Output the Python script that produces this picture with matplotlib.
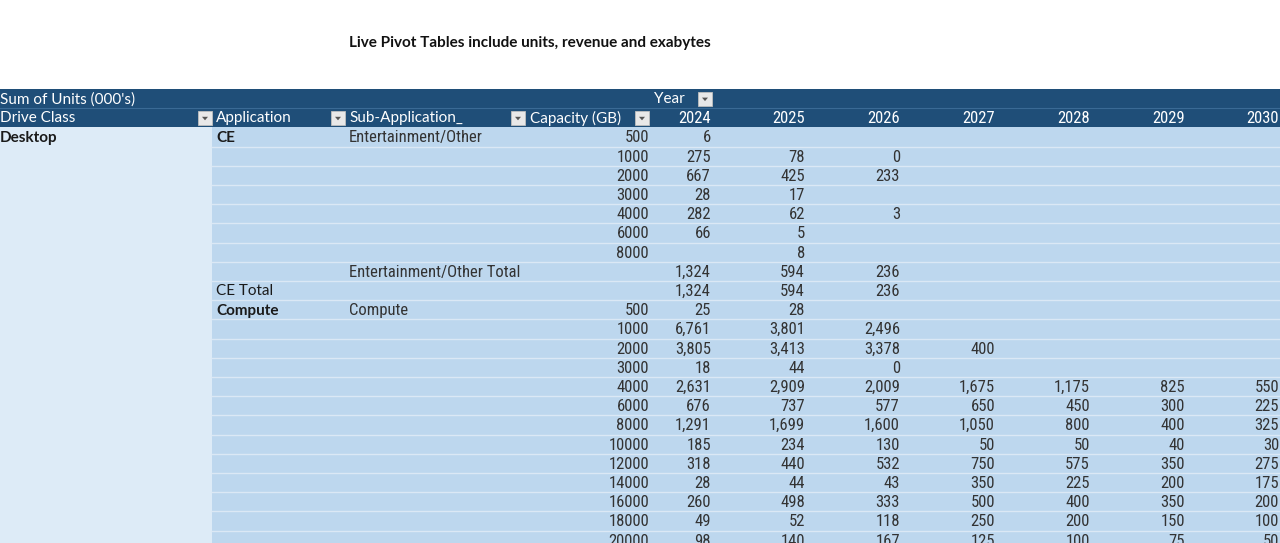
"""Pivot table screenshot: units by drive class, application and capacity."""

import matplotlib

matplotlib.use("Agg")
import matplotlib.pyplot as plt
from matplotlib import font_manager, patches

TITLE = "Live Pivot Tables include units, revenue and exabytes"
YEARS = [2024, 2025, 2026, 2027, 2028, 2029, 2030]

drive_class = ["Desktop"] + [""] * 21
application = ["CE", "", "", "", "", "", "", "", "CE Total", "Compute"] + [""] * 12
app_bold = [True] + [False] * 8 + [True] + [False] * 12
sub_application = (
    ["Entertainment/Other"] + [""] * 6 + ["Entertainment/Other Total", "", "Compute"]
    + [""] * 12
)
capacity = [500, 1000, 2000, 3000, 4000, 6000, 8000, None, None,
            500, 1000, 2000, 3000, 4000, 6000, 8000, 10000, 12000, 14000,
            16000, 18000, 20000]

units_2024 = [6, 275, 667, 28, 282, 66, None, 1324, 1324,
              25, 6761, 3805, 18, 2631, 676, 1291, 185, 318, 28, 260, 49, 98]
units_2025 = [None, 78, 425, 17, 62, 5, 8, 594, 594,
              28, 3801, 3413, 44, 2909, 737, 1699, 234, 440, 44, 498, 52, 140]
units_2026 = [None, 0, 233, None, 3, None, None, 236, 236,
              None, 2496, 3378, 0, 2009, 577, 1600, 130, 532, 43, 333, 118, 167]
units_2027 = [None] * 11 + [400, None, 1675, 650, 1050, 50, 750, 350, 500, 250, 125]
units_2028 = [None] * 13 + [1175, 450, 800, 50, 575, 225, 400, 200, 100]
units_2029 = [None] * 13 + [825, 300, 400, 40, 350, 200, 350, 150, 75]
units_2030 = [None] * 13 + [550, 225, 325, 30, 275, 175, 200, 100, 50]

HEADER_BG = "#1f4e78"
LEFT_BG = "#ddebf7"
BODY_BG = "#bdd7ee"
SEP = "#dbe8f5"
TEXT = "#1a1a1a"
NUM_TEXT = "#333333"


def _family(names):
    installed = {f.name for f in font_manager.fontManager.ttflist}
    picked = [n for n in names if n in installed]
    return picked + ["DejaVu Sans"]


LABEL_FONT = _family(["Lato", "Open Sans"])
NUM_FONT = _family(["Liberation Sans Narrow", "Roboto Condensed", "Roboto"])
TITLE_FONT = _family(["Lato", "Noto Sans"])


def _dropdown(ax, xc, yc):
    ax.add_patch(patches.Rectangle((xc - 7, yc - 7), 14, 14,
                                   facecolor="#e8e8e8", edgecolor="#bfbfbf", lw=0.6))
    ax.add_patch(patches.Polygon([[xc - 3, yc - 1.5], [xc + 3, yc - 1.5], [xc, yc + 2]],
                                 closed=True, facecolor="#555555", edgecolor="none"))


def main():
    fig = plt.figure(figsize=(12.8, 5.43), dpi=100)
    ax = fig.add_axes([0, 0, 1, 1])
    ax.set_xlim(0, 1280)
    ax.set_ylim(543, 0)
    ax.axis("off")

    ax.text(530, 42.5, TITLE, ha="center", va="center", fontsize=11,
            fontweight="bold", family=TITLE_FONT, color="#111111")

    top, row_h = 89, 19.2
    body_top = top + 2 * row_h
    n_rows = len(capacity)

    # backgrounds
    ax.add_patch(patches.Rectangle((0, top), 1280, 2 * row_h, facecolor=HEADER_BG,
                                   edgecolor="none"))
    ax.plot([0, 1280], [top + row_h, top + row_h], color="#3a6a95", lw=0.8)
    ax.add_patch(patches.Rectangle((0, body_top), 212, 543 - body_top,
                                   facecolor=LEFT_BG, edgecolor="none"))
    ax.add_patch(patches.Rectangle((212, body_top), 1068, 543 - body_top,
                                   facecolor=BODY_BG, edgecolor="none"))
    for i in range(1, n_rows + 1):
        y = body_top + i * row_h
        ax.plot([212, 1280], [y, y], color=SEP, lw=1.0)

    # header texts
    hy1 = top + row_h / 2 + 0.5
    hy2 = top + 1.5 * row_h + 0.5
    hkw = dict(va="center", color="white", fontsize=11, family=LABEL_FONT)
    ax.text(0, hy1, "Sum of Units (000's)", ha="left", **hkw)
    ax.text(654, hy1, "Year", ha="left", **hkw)
    _dropdown(ax, 705, hy1)
    ax.text(0, hy2, "Drive Class", ha="left", **hkw)
    ax.text(216, hy2, "Application", ha="left", **hkw)
    ax.text(349, hy2, "Sub-Application_", ha="left", **hkw)
    ax.text(530, hy2, "Capacity (GB)", ha="left", **hkw)
    for xc in (205, 338, 518, 642):
        _dropdown(ax, xc, hy2)

    col_right = [711, 805, 900, 995, 1090, 1185, 1279]
    for year, xr in zip(YEARS, col_right):
        ax.text(xr, hy2, str(year), ha="right", va="center", color="white",
                fontsize=12, family=NUM_FONT)

    # body
    series = [units_2024, units_2025, units_2026, units_2027,
              units_2028, units_2029, units_2030]
    for i in range(n_rows):
        y = body_top + (i + 0.5) * row_h + 0.8
        if drive_class[i]:
            ax.text(0, y, drive_class[i], ha="left", va="center", fontsize=11,
                    fontweight="bold", family=LABEL_FONT, color=TEXT)
        if application[i]:
            ax.text(216, y, application[i], ha="left", va="center", fontsize=11,
                    fontweight="bold" if app_bold[i] else "normal",
                    family=LABEL_FONT, color=TEXT)
        if sub_application[i]:
            ax.text(349, y, sub_application[i], ha="left", va="center",
                    fontsize=12, family=NUM_FONT, color=NUM_TEXT)
        if capacity[i] is not None:
            ax.text(649, y, str(capacity[i]), ha="right", va="center",
                    fontsize=12, family=NUM_FONT, color=NUM_TEXT)
        for values, xr in zip(series, col_right):
            v = values[i]
            if v is not None:
                ax.text(xr, y, f"{v:,}", ha="right", va="center", fontsize=12,
                        family=NUM_FONT, color=NUM_TEXT)

    fig.savefig("out.png", dpi=100)
    plt.close(fig)


if __name__ == "__main__":
    main()
